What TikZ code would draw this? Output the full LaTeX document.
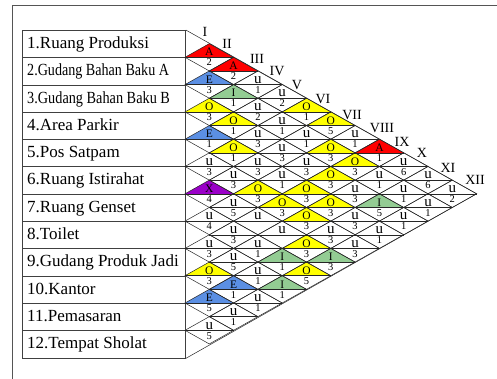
\documentclass[tikz,border=0pt]{standalone}
\usepackage{fontspec}
\setmainfont{Liberation Serif}
\definecolor{cA}{HTML}{FF0000}
\definecolor{cE}{HTML}{5B8FE3}
\definecolor{cI}{HTML}{93CC93}
\definecolor{cO}{HTML}{FFFF00}
\definecolor{cX}{HTML}{9A00C8}
\definecolor{frameclr}{HTML}{555555}
\newcommand\arcu{{\fontsize{15}{15}\selectfont u}}
\def\arcdata{1/2/A/2/cA, 2/3/E/3/cE, 3/4/O/3/cO, 4/5/E/1/cE, 5/6/\arcu/3/white, 6/7/X/4/cX, 7/8/\arcu/4/white, 8/9/\arcu/3/white, 9/10/O/3/cO, 10/11/E/5/cE, 11/12/\arcu/5/white,
1/3/A/2/cA, 2/4/I/1/cI, 3/5/O/1/cO, 4/6/O/1/cO, 5/7/\arcu/3/white, 6/8/\arcu/5/white, 7/9/\arcu/3/white, 8/10/\arcu/5/white, 9/11/E/1/cE, 10/12/\arcu/1/white,
1/4/\arcu/1/white, 2/5/\arcu/2/white, 3/6/\arcu/3/white, 4/7/\arcu/3/white, 5/8/O/3/cO, 6/9/\arcu/{}/white, 7/10/\arcu/1/white, 8/11/\arcu/1/white, 9/12/\arcu/1/white,
1/5/\arcu/2/white, 2/6/\arcu/1/white, 3/7/\arcu/3/white, 4/8/\arcu/1/white, 5/9/O/3/cO, 6/10/\arcu/{}/white, 7/11/I/1/cI, 8/12/I/1/cI,
1/6/O/1/cO, 2/7/\arcu/1/white, 3/8/\arcu/3/white, 4/9/O/3/cO, 5/10/O/3/cO, 6/11/O/3/cO, 7/12/O/5/cO,
1/7/O/5/cO, 2/8/O/3/cO, 3/9/O/3/cO, 4/10/O/3/cO, 5/11/\arcu/3/white, 6/12/I/3/cI,
1/8/\arcu/1/white, 2/9/O/3/cO, 3/10/\arcu/3/white, 4/11/\arcu/3/white, 5/12/\arcu/3/white,
1/9/A/1/cA, 2/10/\arcu/1/white, 3/11/I/5/cI, 4/12/\arcu/1/white,
1/10/\arcu/6/white, 2/11/\arcu/1/white, 3/12/\arcu/1/white,
1/11/\arcu/6/white, 2/12/\arcu/1/white,
1/12/\arcu/2/white}
\tikzset{
  gridline/.style={draw=black!85, line width=0.5pt, line join=miter},
  rowbox/.style={draw=black!75, line width=0.8pt, minimum width=163pt, minimum height=27.3pt, inner sep=0pt, anchor=north west},
  rowtxt/.style={anchor=base west, inner sep=0pt, font=\fontsize{17}{17}\selectfont},
  reltxt/.style={anchor=base, inner sep=0pt, font=\fontsize{11.5}{11.5}\selectfont},
  numtxt/.style={anchor=base, inner sep=0pt, font=\fontsize{10.5}{10.5}\selectfont},
  romtxt/.style={anchor=center, inner sep=0pt, font=\fontsize{14}{14}\selectfont},
  framel/.style={draw=frameclr, line width=0.9pt}
}
\begin{document}
\begin{tikzpicture}[x=1pt,y=-1pt]
\useasboundingbox (0,0) rectangle (497,379);
\coordinate (fr1) at (497,5);
\coordinate (fr2) at (12,5);
\coordinate (fr3) at (12,379);
\draw[framel] (fr1) -- (fr2) -- (fr3);
% row boxes
\foreach \k/\t in {1/{1.Ruang Produksi}, 2/{\scalebox{0.83}[1]{2.Gudang Bahan Baku A}}, 3/{\scalebox{0.84}[1]{3.Gudang Bahan Baku B}}, 4/{4.Area Parkir}, 5/{5.Pos Satpam}, 6/{6.Ruang Istirahat}, 7/{7.Ruang Genset}, 8/{8.Toilet}, 9/{9.Gudang Produk Jadi}, 10/{10.Kantor}, 11/{11.Pemasaran}, 12/{12.Tempat Sholat}} {
  \node[rowbox] (box\k) at (22,{30+(\k-1)*27.3}) {};
  \node[rowtxt] (txt\k) at (27,{30+(\k-1)*27.3+18.5}) {\t};
}
% fills
\foreach \i/\j/\L/\N/\C in \arcdata {
  \pgfmathsetmacro\X{185+(\j-\i)*24.3}
  \pgfmathsetmacro\Y{30+(\i+\j-1)*13.65}
  \fill[\C] ({\X-24.3},\Y) -- (\X,{\Y-13.65}) -- ({\X+24.3},\Y) -- cycle;
}
% lines and texts
\foreach \i/\j/\L/\N/\C in \arcdata {
  \pgfmathsetmacro\X{185+(\j-\i)*24.3}
  \pgfmathsetmacro\Y{30+(\i+\j-1)*13.65}
  \draw[gridline] ({\X-24.3},\Y) -- (\X,{\Y-13.65}) -- ({\X+24.3},\Y) -- (\X,{\Y+13.65}) -- cycle;
  \draw[gridline] ({\X-24.3},\Y) -- ({\X+24.3},\Y);
  \node[reltxt] (L\i-\j) at (\X,{\Y-1.3}) {\L};
  \node[numtxt] (N\i-\j) at (\X,{\Y+8.7}) {\N};
}
\coordinate (apex) at (476.6,193.8);
\draw[gridline] (box1.north east) -- (apex) -- (box12.south east);
% roman numerals
\foreach \r/\x/\y in {I/205/31.5, II/227/43.5, III/257/59, IV/277/71, V/297/85, VI/323/99, VII/352/115, VIII/382/128, IX/402/142, X/422/153, XI/448/168, XII/475/180} {
  \node[romtxt] (rom\r) at (\x,\y) {\r};
}
\end{tikzpicture}
\end{document}
